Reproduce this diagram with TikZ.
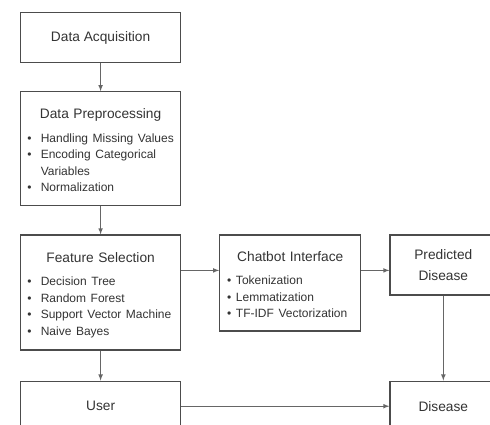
\documentclass[tikz,border=0pt]{standalone}
\usepackage{fontspec}
\setmainfont{Liberation Sans}
\usetikzlibrary{arrows, positioning, calc}

\newcommand{\boxtitle}[1]{{\centering\rule{0pt}{13.5pt}#1\par}\vspace{4.5pt}}
\newcommand{\bitems}[2][7pt]{{\fontsize{9}{12.4}\selectfont
  \begin{tabular}[t]{@{}l@{\hspace{#1}}l@{}}#2\end{tabular}}}

\tikzset{
  block/.style={rectangle, draw=black!70, line width=0.9pt, text=black!80,
    minimum width=120pt, minimum height=37.5pt, align=center,
    font=\fontsize{10.3}{13}\selectfont},
  listblock/.style={block, text width=110pt, inner xsep=5pt, align=left},
  link/.style={->, draw=black!60, line width=0.6pt}
}

\begin{document}
\begin{tikzpicture}[>=latex, node distance=21pt]
    \useasboundingbox (0,0) rectangle (367.5pt,-318.75pt);
    % left column
    \node[block, anchor=north west] (acq) at (15pt,-9pt) {Data Acquisition};
    \node[listblock, minimum height=85.5pt, below=of acq] (pre) {\boxtitle{Data Preprocessing}
        \bitems{\textbullet & Handling Missing Values\\
                \textbullet & Encoding Categorical\\
                            & Variables\\
                \textbullet & Normalization}};
    \node[listblock, minimum height=86.25pt, below=of pre] (fs) {\boxtitle{Feature Selection}
        \bitems{\textbullet & Decision Tree\\
                \textbullet & Random Forest\\
                \textbullet & Support Vector Machine\\
                \textbullet & Naive Bayes}};
    \node[block, below=22.5pt of fs] (user) {User};
    % right part
    \node[listblock, text width=94.75pt, inner xsep=5.5pt, minimum width=0pt, minimum height=72pt,
          right=28.5pt of fs.north east, anchor=north west] (chat) {\boxtitle{Chatbot Interface}
        \bitems[3.5pt]{\textbullet & Tokenization\\
                       \textbullet & Lemmatization\\
                       \textbullet & TF-IDF Vectorization}};
    \node[block, minimum width=80pt, minimum height=45pt,
          right=21pt of chat.north east, anchor=north west] (pred) {Predicted\\[2.5pt]Disease};
    \node[block, minimum width=80pt] (dis) at (pred |- user) {Disease};

    % arrows
    \draw[link] (acq) -- (pre);
    \draw[link] (pre) -- (fs);
    \draw[link] (fs) -- (user);
    \draw[link] ([yshift=-27pt]fs.north east) -- ([yshift=-27pt]chat.north west);
    \draw[link] ([yshift=-27pt]chat.north east) -- ([yshift=-27pt]pred.north west);
    \draw[link] (pred) -- (dis);
    \draw[link] (user) -- (dis);
\end{tikzpicture}
\end{document}
